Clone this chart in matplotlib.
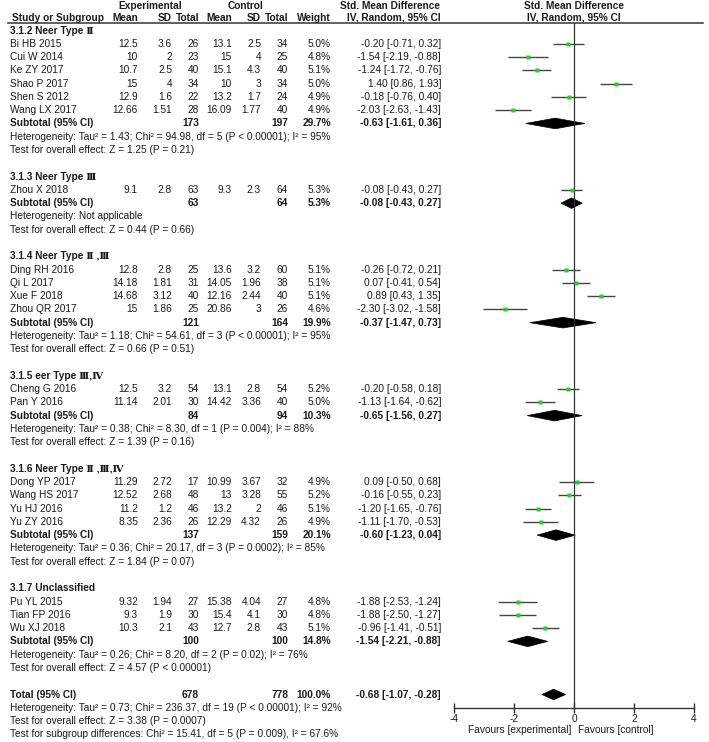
import matplotlib
matplotlib.use('Agg')
import matplotlib.pyplot as plt
from matplotlib.patches import Polygon

plt.rcParams['font.family'] = ['Liberation Sans', 'DejaVu Serif']
FS = 7.3

# ---------------- data ----------------
groups = ["3.1.2 Neer Type Ⅱ", "3.1.3 Neer Type Ⅲ", "3.1.4 Neer Type Ⅱ ,Ⅲ",
          "3.1.5 eer Type Ⅲ,Ⅳ", "3.1.6 Neer Type Ⅱ ,Ⅲ,Ⅳ", "3.1.7 Unclassified"]
study_group = [0, 0, 0, 0, 0, 0, 1, 2, 2, 2, 2, 3, 3, 4, 4, 4, 4, 5, 5, 5]
studies = ["Bi HB 2015", "Cui W 2014", "Ke ZY 2017", "Shao P 2017", "Shen S 2012", "Wang LX 2017",
           "Zhou X 2018",
           "Ding RH 2016", "Qi L 2017", "Xue F 2018", "Zhou QR 2017",
           "Cheng G 2016", "Pan Y 2016",
           "Dong YP 2017", "Wang HS 2017", "Yu HJ 2016", "Yu ZY 2016",
           "Pu YL 2015", "Tian FP 2016", "Wu XJ 2018"]
exp_mean = [12.5, 10, 10.7, 15, 12.9, 12.66, 9.1, 12.8, 14.18, 14.68, 15, 12.5, 11.14,
            11.29, 12.52, 11.2, 8.35, 9.32, 9.3, 10.3]
exp_sd = [3.6, 2, 2.5, 4, 1.6, 1.51, 2.8, 2.8, 1.81, 3.12, 1.86, 3.2, 2.01,
          2.72, 2.68, 1.2, 2.36, 1.94, 1.9, 2.1]
exp_n = [26, 23, 40, 34, 22, 28, 63, 25, 31, 40, 25, 54, 30, 17, 48, 46, 26, 27, 30, 43]
ctl_mean = [13.1, 15, 15.1, 10, 13.2, 16.09, 9.3, 13.6, 14.05, 12.16, 20.86, 13.1, 14.42,
            10.99, 13, 13.2, 12.29, 15.38, 15.4, 12.7]
ctl_sd = [2.5, 4, 4.3, 3, 1.7, 1.77, 2.3, 3.2, 1.96, 2.44, 3, 2.8, 3.36,
          3.67, 3.28, 2, 4.32, 4.04, 4.1, 2.8]
ctl_n = [34, 25, 40, 34, 24, 40, 64, 60, 38, 40, 26, 54, 40, 32, 55, 46, 26, 27, 30, 43]
weight = [5.0, 4.8, 5.1, 5.0, 4.9, 4.9, 5.3, 5.1, 5.1, 5.1, 4.6, 5.2, 5.0,
          4.9, 5.2, 5.1, 4.9, 4.8, 4.8, 5.1]
smd = [-0.20, -1.54, -1.24, 1.40, -0.18, -2.03, -0.08, -0.26, 0.07, 0.89, -2.30, -0.20, -1.13,
       0.09, -0.16, -1.20, -1.11, -1.88, -1.88, -0.96]
smd_lo = [-0.71, -2.19, -1.72, 0.86, -0.76, -2.63, -0.43, -0.72, -0.41, 0.43, -3.02, -0.58, -1.64,
          -0.50, -0.55, -1.65, -1.70, -2.53, -2.50, -1.41]
smd_hi = [0.32, -0.88, -0.76, 1.93, 0.40, -1.43, 0.27, 0.21, 0.54, 1.35, -1.58, 0.18, -0.62,
          0.68, 0.23, -0.76, -0.53, -1.24, -1.27, -0.51]

sub_exp_n = [173, 63, 121, 84, 137, 100]
sub_ctl_n = [197, 64, 164, 94, 159, 100]
sub_weight = [29.7, 5.3, 19.9, 10.3, 20.1, 14.8]
sub_smd = [-0.63, -0.08, -0.37, -0.65, -0.60, -1.54]
sub_lo = [-1.61, -0.43, -1.47, -1.56, -1.23, -2.21]
sub_hi = [0.36, 0.27, 0.73, 0.27, 0.04, -0.88]
sub_het = ["Heterogeneity: Tau² = 1.43; Chi² = 94.98, df = 5 (P < 0.00001); I² = 95%",
           "Heterogeneity: Not applicable",
           "Heterogeneity: Tau² = 1.18; Chi² = 54.61, df = 3 (P < 0.00001); I² = 95%",
           "Heterogeneity: Tau² = 0.38; Chi² = 8.30, df = 1 (P = 0.004); I² = 88%",
           "Heterogeneity: Tau² = 0.36; Chi² = 20.17, df = 3 (P = 0.0002); I² = 85%",
           "Heterogeneity: Tau² = 0.26; Chi² = 8.20, df = 2 (P = 0.02); I² = 76%"]
sub_test = ["Test for overall effect: Z = 1.25 (P = 0.21)",
            "Test for overall effect: Z = 0.44 (P = 0.66)",
            "Test for overall effect: Z = 0.66 (P = 0.51)",
            "Test for overall effect: Z = 1.39 (P = 0.16)",
            "Test for overall effect: Z = 1.84 (P = 0.07)",
            "Test for overall effect: Z = 4.57 (P < 0.00001)"]

tot_exp_n = 678
tot_ctl_n = 778
tot_weight = 100.0
tot_smd, tot_lo, tot_hi = -0.68, -1.07, -0.28
tot_lines = ["Heterogeneity: Tau² = 0.73; Chi² = 236.37, df = 19 (P < 0.00001); I² = 92%",
             "Test for overall effect: Z = 3.38 (P = 0.0007)",
             "Test for subgroup differences: Chi² = 15.41, df = 5 (P = 0.009), I² = 67.6%"]

xticks = [-4, -2, 0, 2, 4]
fav_left = "Favours [experimental]"
fav_right = "Favours [control]"

# ---------------- layout ----------------
W, H = 709, 742
ROW0 = 30.5      # pixel y of first row
STEP = 13.28     # pixel per row


def prow(py):
    return (py - ROW0) / STEP


X_NAME = 10
X_EM, X_ESD, X_EN = 138, 172, 199
X_CM, X_CSD, X_CN = 232, 261, 288
X_W = 331
X_EFF = 441
F_LEFT, F_RIGHT = 454, 694     # pixel for -4 and 4
F_TOP, F_BOT = 23, 708

fig = plt.figure(figsize=(W / 100, H / 100), dpi=100)
ax_t = fig.add_axes([0, 0, 1, 1])
ax_t.set_xlim(0, W)
ax_t.set_ylim(prow(H), prow(0))
ax_t.axis('off')

ax_f = fig.add_axes([F_LEFT / W, (H - F_BOT) / H, (F_RIGHT - F_LEFT) / W, (F_BOT - F_TOP) / H])
ax_f.set_facecolor('none')


def txt(x, r, s, ha='right', bold=False):
    ax_t.text(x, r, s, ha=ha, va='center', fontsize=FS,
              fontweight='bold' if bold else 'normal', color='#1a1a1a')


def fmt(v):
    return '{:g}'.format(v)


# headers
hdr_r1 = prow(6)
hdr_r2 = prow(17.5)
txt(150, hdr_r1, "Experimental", ha='center', bold=True)
txt(246, hdr_r1, "Control", ha='center', bold=True)
txt(390, hdr_r1, "Std. Mean Difference", ha='center', bold=True)
txt(574, hdr_r1, "Std. Mean Difference", ha='center', bold=True)
txt(12, hdr_r2, "Study or Subgroup", ha='left', bold=True)
for x, s in [(X_EM, "Mean"), (X_ESD, "SD"), (X_EN, "Total"), (X_CM, "Mean"),
             (X_CSD, "SD"), (X_CN, "Total"), (X_W, "Weight")]:
    txt(x, hdr_r2, s, bold=True)
txt(X_EFF, hdr_r2, "IV, Random, 95% CI", bold=True)
txt(574, hdr_r2, "IV, Random, 95% CI", ha='center', bold=True)
ax_t.plot([8, 703], [prow(F_TOP), prow(F_TOP)], color='#444444', lw=1.2)

# body
study_rows = []
sub_rows = []
r = 0
for g in range(len(groups)):
    txt(X_NAME, r, groups[g], ha='left', bold=True)
    r += 1
    for i, sg in enumerate(study_group):
        if sg != g:
            continue
        txt(X_NAME, r, studies[i], ha='left')
        txt(X_EM, r, fmt(exp_mean[i]))
        txt(X_ESD, r, fmt(exp_sd[i]))
        txt(X_EN, r, str(exp_n[i]))
        txt(X_CM, r, fmt(ctl_mean[i]))
        txt(X_CSD, r, fmt(ctl_sd[i]))
        txt(X_CN, r, str(ctl_n[i]))
        txt(X_W, r, "{:.1f}%".format(weight[i]))
        txt(X_EFF, r, "{:.2f} [{:.2f}, {:.2f}]".format(smd[i], smd_lo[i], smd_hi[i]))
        study_rows.append(r)
        r += 1
    txt(X_NAME, r, "Subtotal (95% CI)", ha='left', bold=True)
    txt(X_EN, r, str(sub_exp_n[g]), bold=True)
    txt(X_CN, r, str(sub_ctl_n[g]), bold=True)
    txt(X_W, r, "{:.1f}%".format(sub_weight[g]), bold=True)
    txt(X_EFF, r, "{:.2f} [{:.2f}, {:.2f}]".format(sub_smd[g], sub_lo[g], sub_hi[g]), bold=True)
    sub_rows.append(r)
    r += 1
    txt(X_NAME, r, sub_het[g], ha='left')
    r += 1
    txt(X_NAME, r, sub_test[g], ha='left')
    r += 2

tot_row = r
txt(X_NAME, r, "Total (95% CI)", ha='left', bold=True)
txt(X_EN, r, str(tot_exp_n), bold=True)
txt(X_CN, r, str(tot_ctl_n), bold=True)
txt(X_W, r, "{:.1f}%".format(tot_weight), bold=True)
txt(X_EFF, r, "{:.2f} [{:.2f}, {:.2f}]".format(tot_smd, tot_lo, tot_hi), bold=True)
for k, line in enumerate(tot_lines):
    txt(X_NAME, r + 1 + k, line, ha='left')

# ---------------- forest ----------------
ax_f.set_xlim(xticks[0], xticks[-1])
ax_f.set_ylim(prow(F_BOT), prow(F_TOP))
ax_f.axvline(0, color='#333333', lw=0.9)
ax_f.hlines(study_rows, smd_lo, smd_hi, color='#444444', lw=1.0)
ax_f.plot(smd, study_rows, 's', color='#2ecc2e', ms=2.6, mec='none')

DH = 0.4
for rr, m, lo, hi in list(zip(sub_rows, sub_smd, sub_lo, sub_hi)) + [(tot_row, tot_smd, tot_lo, tot_hi)]:
    ax_f.add_patch(Polygon([(lo, rr), (m, rr - DH), (hi, rr), (m, rr + DH)],
                           closed=True, facecolor='black', edgecolor='black', lw=0.5))

for s in ['top', 'right', 'left']:
    ax_f.spines[s].set_visible(False)
ax_f.spines['bottom'].set_color('#333333')
ax_f.spines['bottom'].set_linewidth(1.0)
ax_f.set_yticks([])
ax_f.set_xticks(xticks)
ax_f.set_xticklabels([str(t) for t in xticks])
ax_f.tick_params(axis='x', direction='inout', length=7, width=1, color='#333333',
                 labelsize=FS, pad=0.5, labelcolor='#1a1a1a')

txt(571, prow(730), fav_left, ha='right')
txt(578, prow(730), fav_right, ha='left')

fig.savefig('out.png', dpi=100)
